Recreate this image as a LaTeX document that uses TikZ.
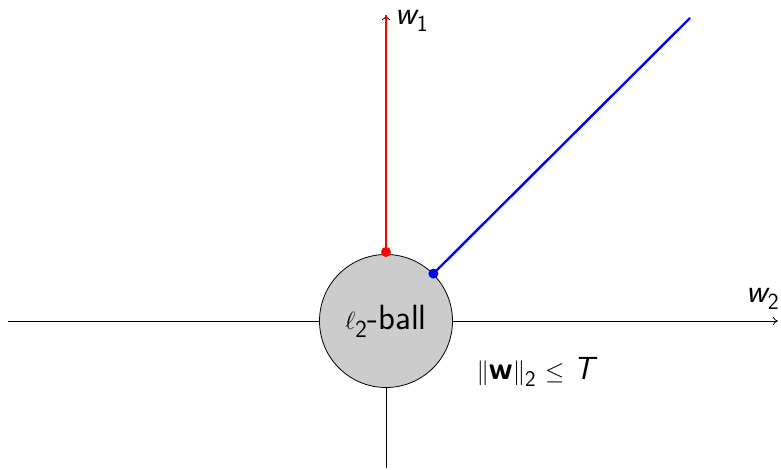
\documentclass[tikz,border=0pt]{standalone}
\usetikzlibrary{arrows.meta,calc}
\begin{document}
\begin{tikzpicture}[x=1pt,y=1pt,
  axis/.style={line width=0.8pt,-{To[length=5pt,width=8pt]}},
  dotc/.style={circle,inner sep=0pt,minimum size=10pt},
  lbl/.style={inner sep=0pt,font=\fontsize{33}{36}\selectfont\sffamily}]
\useasboundingbox (0,0) rectangle (781,470);
\coordinate (xl) at (8,149);
\coordinate (xr) at (778,149);
\coordinate (yb) at (386,2);
\coordinate (yt) at (386,455);
\coordinate (c) at (386,149);
\coordinate (rp) at (386,218);
\coordinate (bp) at ($(c)+(45:67)$);
\coordinate (bend) at (690,452);
\draw[axis] (xl) -- (xr);
\draw[axis] (yb) -- (yt);
\node[circle,draw=black,line width=0.8pt,fill=black!20,minimum size=133pt,inner sep=0pt,
  font=\fontsize{35}{38}\selectfont\sffamily] (ball) at (c) {$\ell$\textsubscript{2}-ball};
\draw[red,line width=2.4pt] (rp) -- (yt);
\draw[blue,line width=2.4pt] (bp) -- (bend);
\node[dotc,fill=red] (rd) at (rp) {};
\node[dotc,fill=blue] (bd) at (bp) {};
\node[lbl] (w1) at (412,449) {\itshape w\textsubscript{\upshape 1}};
\node[lbl] (w2) at (763,171) {\itshape w\textsubscript{\upshape 2}};
\node[font=\fontsize{32}{36}\selectfont\sffamily] (norm) at (537,98) {$\|$\textbf{w}$\|$\textsubscript{2}\;$\leq$\;\textit{T}};
\end{tikzpicture}
\end{document}
